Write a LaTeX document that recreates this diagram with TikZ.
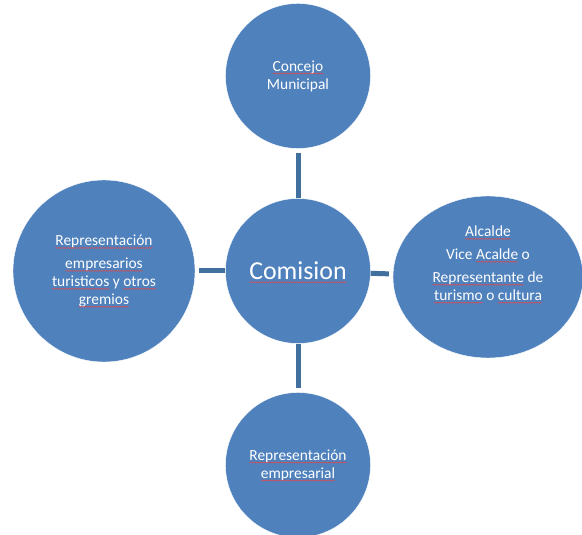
\documentclass[tikz,border=0pt]{standalone}
\usepackage{fontspec}
\setmainfont{Carlito}
\usepackage{xcolor}
\usepackage{tikz}
\usetikzlibrary{shapes,decorations.pathmorphing}

\definecolor{cblue}{HTML}{4F81BD}
\definecolor{lblue}{HTML}{41709F}
\definecolor{wavy}{HTML}{E0484B}

% red wavy underline under a word
\newsavebox\wvbox
\newlength\wvlen
\newcommand\wv[1]{\sbox\wvbox{#1}\setlength\wvlen{\wd\wvbox}\leavevmode\usebox\wvbox%
  \tikz[overlay,baseline=0pt]\draw[wavy,line width=0.5pt,decorate,
    decoration={snake,amplitude=0.5pt,segment length=2.4pt}] (-\wvlen,-2.4pt) -- (0pt,-2.4pt);}

\begin{document}
\begin{tikzpicture}[x=1bp,y=1bp]
      \tikzstyle{member}=[circle,draw=white,thin,fill=cblue,text=white,align=center,
        minimum size=145bp,inner sep=0pt,font=\fontsize{15.5}{18}\selectfont]
      \tikzstyle{chair}=[member,font=\fontsize{26}{30}\selectfont]
      \tikzstyle{mayor}=[member,ellipse,minimum width=190bp,minimum height=162bp]
      \tikzstyle{link}=[draw=lblue,line width=5bp,shorten >=4bp]

      \useasboundingbox (-298,271) rectangle (284,-264);

      \begin{scope}[node distance=194bp]
        \node (comision) [chair] {\wv{Comision}};
        \node (concejo) [member,above of=comision,yshift=1bp] {\wv{Concejo}\\Municipal};
        \node (empresarial) [member,below of=comision] {\wv{Representación}\\\wv{empresarial}};
        \node (gremios) [member,left of=comision,minimum size=182bp] {%
          \wv{Representación}\\[5bp]\wv{empresarios}\\\wv{turisticos} y \wv{otros}\\\wv{gremios}};
        % empty last line lifts the text above the centre
        \node (alcalde) [mayor,right of=comision,xshift=-4bp,yshift=-6bp] {%
          \wv{Alcalde}\\[5bp]Vice \wv{Acalde} o\\[5bp]\wv{Representante} de\\\wv{turismo} o \wv{cultura}\\[10bp]\mbox{}};
      \end{scope}

      \path[link] (comision) -- (concejo);
      \path[link] (comision) -- (empresarial);
      \path[link] (comision) -- (gremios);
      \path[link] (comision) -- (alcalde);
    \end{tikzpicture}
\end{document}
